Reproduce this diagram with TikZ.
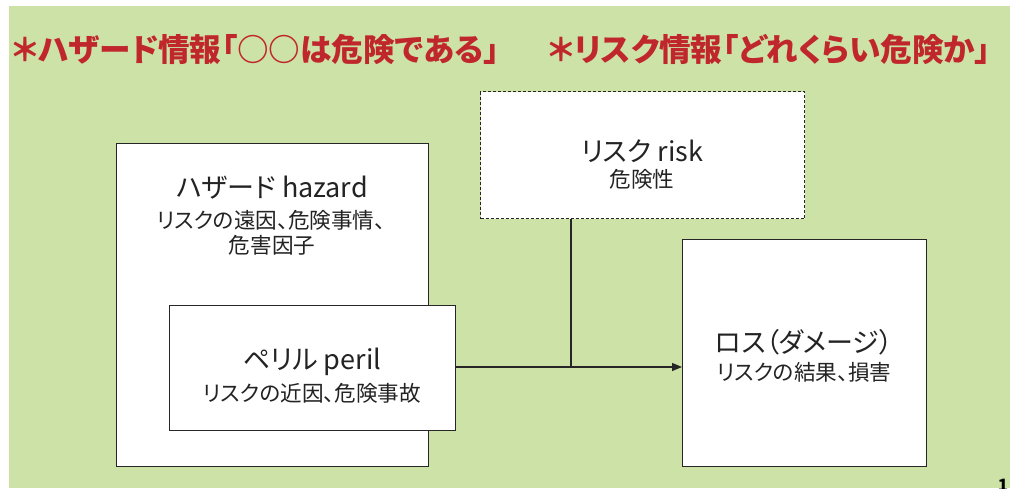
\documentclass[tikz,border=0pt]{standalone}
\usepackage{fontspec}
\setmainfont{Noto Sans CJK JP}[RawFeature=+palt]
\usetikzlibrary{arrows.meta}
\definecolor{bggreen}{RGB}{205,226,166}
\definecolor{titlered}{RGB}{192,39,45}
\definecolor{txt}{RGB}{35,35,35}
\tikzset{
  box/.style={draw=black!85, line width=1.2pt, fill=white, inner sep=0pt, anchor=north west},
  dbox/.style={box, dash pattern=on 3pt off 2pt, line width=1pt},
  head/.style={font=\fontsize{27}{30}\selectfont, text=txt, inner sep=0pt},
  sub/.style={font=\fontsize{21.6}{25}\selectfont, text=txt, inner sep=0pt},
  ttl/.style={font=\fontsize{31.6}{34}\selectfont\bfseries, text=titlered, inner sep=0pt, anchor=west},
  conn/.style={line width=1.2pt, draw=black!85},
}
\begin{document}
\begin{tikzpicture}[x=1pt,y=-1pt]
\useasboundingbox (0,0) rectangle (1010,488);
\fill[bggreen] (9,6) rectangle (1010,488);
% titles
\node[ttl] (t1) at (12,50) {＊ハザード情報「○○は危険である」};
\node[ttl] (t2) at (548,50) {＊リスク情報「どれくらい危険か」};
% boxes
\node[box, minimum width=312pt, minimum height=323pt] (hazard) at (116,143) {};
\node[box, minimum width=286pt, minimum height=125pt] (peril) at (169,305) {};
\node[dbox, minimum width=324pt, minimum height=127pt] (risk) at (480,91) {};
\node[box, minimum width=244pt, minimum height=227pt] (loss) at (682,239) {};
% texts
\node[head] (hz1) at (272,188) {ハザード hazard};
\node[sub] (hz2) at (271,220) {リスクの遠因、危険事情、};
\node[sub] (hz3) at (272,245) {危害因子};
\node[head] (pr1) at (312,362) {ペリル peril};
\node[sub] (pr2) at (312,393) {リスクの近因、危険事故};
\node[head] (rk1) at (642,151) {リスク risk};
\node[sub] (rk2) at (642,179) {危険性};
\node[head] (ls1) at (804,342) {ロス（ダメージ）};
\node[sub] (ls2) at (804,372) {リスクの結果、損害};
% connectors
\coordinate (j) at (571,367);
\draw[conn, -{Triangle[length=10pt,width=8pt]}] (peril.east |- j) -- (loss.west |- j);
\draw[conn] (risk.south -| j) -- (j);
% page number
\node[font=\fontsize{17}{19}\selectfont\bfseries, inner sep=0pt, anchor=north] (pg) at (1003,479) {1};
\end{tikzpicture}
\end{document}
